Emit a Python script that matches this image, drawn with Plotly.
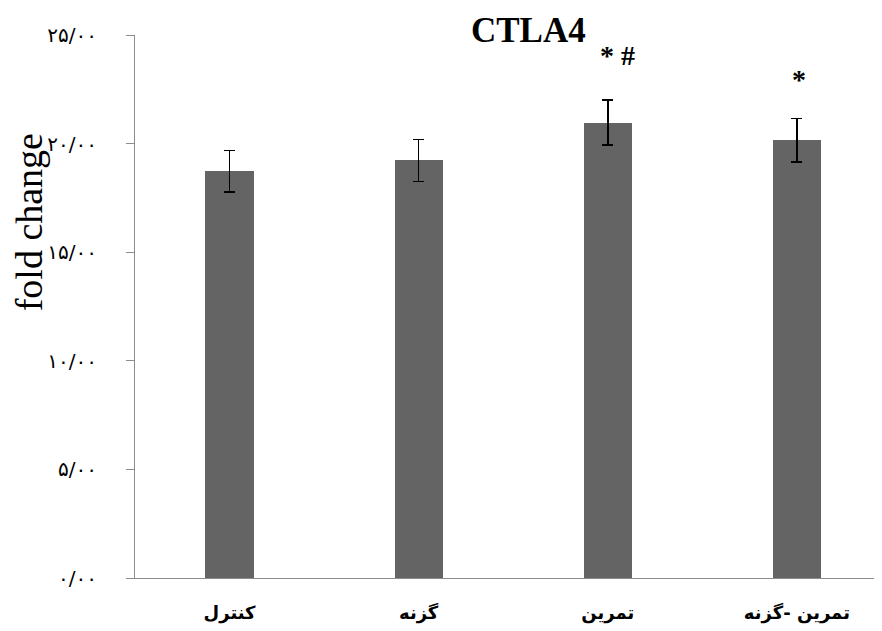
import plotly.graph_objects as go

categories = ["کنترل", "گزنه", "تمرین", "تمرین -گزنه"]
values = [18.73, 19.23, 20.97, 20.15]
errors = [0.95, 0.97, 1.04, 1.0]
sig_marks = ["", "", "* #", "*"]
y_tickvals = [0, 5, 10, 15, 20, 25]
y_ticktext = ["۰/۰۰", "۵/۰۰", "۱۰/۰۰", "۱۵/۰۰", "۲۰/۰۰", "۲۵/۰۰"]

# page body has 8px default margin -> compensate
L, T, B = 127, 26.5, 53
W, H = 874, 623
PW, PH = W - L, H - T - B

fig = go.Figure()
fig.add_trace(go.Bar(
    x=categories, y=values, width=0.255,
    marker=dict(color="#646464", line=dict(width=0)),
    error_y=dict(type="data", array=errors, visible=True, color="black",
                 thickness=1.5, width=5.5),
))

for c, v, e, m in zip(categories, values, errors, sig_marks):
    if m:
        fig.add_annotation(x=c, y=v + e, text="<b>%s</b>" % m, showarrow=False,
                           yanchor="bottom", yshift=27 if len(m) > 1 else 22,
                           xshift=10 if len(m) > 1 else 2,
                           font=dict(family="Liberation Serif, Times New Roman", size=28, color="black"))

fig.add_annotation(xref="paper", yref="paper", x=(528 - 135) / PW, y=1 + (34.5 - 30) / PH,
                   text="<b>CTLA4</b>", showarrow=False, yanchor="middle",
                   font=dict(family="Liberation Serif, Times New Roman", size=35, color="black"))
fig.add_annotation(xref="paper", yref="paper", x=-(135 - 29) / PW, y=(578 - 222) / PH,
                   text="fold change", textangle=-90, showarrow=False,
                   xanchor="center", yanchor="middle",
                   font=dict(family="Liberation Serif, Times New Roman", size=38, color="black"))

fig.update_layout(
    width=W, height=H,
    margin=dict(l=L, r=0, t=T, b=B, pad=0),
    plot_bgcolor="white", paper_bgcolor="white",
    showlegend=False, bargap=0,
    xaxis=dict(range=[-0.5, 3.45], showline=True, linecolor="#8c8c8c", linewidth=1.2,
               ticks="", showgrid=False, ticklabelstandoff=18,
               tickfont=dict(family="DejaVu Sans", size=18, color="black", weight="bold")),
    yaxis=dict(range=[0, 25], tickvals=y_tickvals, ticktext=y_ticktext,
               showline=True, linecolor="#8c8c8c", linewidth=1.2,
               ticks="outside", ticklen=8, tickcolor="#8c8c8c", tickwidth=1.2,
               showgrid=False, zeroline=False, ticklabelstandoff=25,
               tickfont=dict(family="DejaVu Sans", size=20, color="black")),
)

fig.write_html("out.html")
